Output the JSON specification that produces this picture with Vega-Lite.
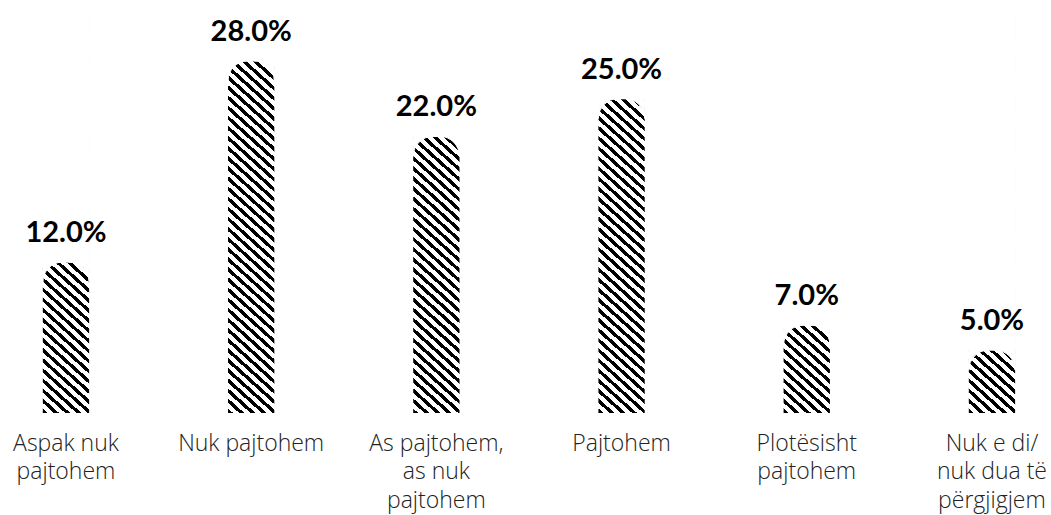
{
  "$schema": "https://vega.github.io/schema/vega-lite/v6.json",
  "width": 1051,
  "height": 413,
  "autosize": {"type": "none"},
  "padding": {"left": 0, "top": 0, "right": 0, "bottom": 102},
  "background": "white",
  "config": {"view": {"stroke": null}},
  "data": {
    "values": [
      {"cat": "Aspak nuk pajtohem", "value": 0.12},
      {"cat": "Nuk pajtohem", "value": 0.28},
      {"cat": "As pajtohem, as nuk pajtohem", "value": 0.22},
      {"cat": "Pajtohem", "value": 0.25},
      {"cat": "Plotësisht pajtohem", "value": 0.07},
      {"cat": "Nuk e di/nuk dua të përgjigjem", "value": 0.05}
    ]
  },
  "encoding": {
    "x": {
      "field": "cat",
      "type": "nominal",
      "sort": null,
      "scale": {"paddingInner": 0.75, "paddingOuter": 0.2125, "align": 0.544, "round": false},
      "axis": {
        "title": null,
        "domain": false,
        "ticks": false,
        "grid": false,
        "labelAngle": 0,
        "labelPadding": 19,
        "labelBaseline": "top",
        "labelFont": "Open Sans",
        "labelFontWeight": 300,
        "labelFontSize": 23,
        "labelColor": "#222222",
        "labelLineHeight": 28.5,
        "labelLimit": 0,
        "labelOverlap": false,
        "labelExpr": "datum.value == 'Aspak nuk pajtohem' ? ['Aspak nuk', 'pajtohem'] : datum.value == 'As pajtohem, as nuk pajtohem' ? ['As pajtohem,', 'as nuk', 'pajtohem'] : datum.value == 'Plotësisht pajtohem' ? ['Plotësisht', 'pajtohem'] : datum.value == 'Nuk e di/nuk dua të përgjigjem' ? ['Nuk e di/', 'nuk dua të', 'përgjigjem'] : datum.value"
      }
    }
  },
  "layer": [
    {
      "mark": {
        "type": "bar",
        "fill": {
          "gradient": "linear",
          "x1": 0, "y1": 1, "x2": 0.10995, "y2": -0.08978,
          "stops": [
            {"offset":0,"color":"#000"},{"offset":0.01,"color":"#000"},{"offset":0.01,"color":"#fff"},{"offset":0.02222,"color":"#fff"},
            {"offset":0.02222,"color":"#000"},{"offset":0.03222,"color":"#000"},{"offset":0.03222,"color":"#fff"},{"offset":0.04444,"color":"#fff"},
            {"offset":0.04444,"color":"#000"},{"offset":0.05444,"color":"#000"},{"offset":0.05444,"color":"#fff"},{"offset":0.06667,"color":"#fff"},
            {"offset":0.06667,"color":"#000"},{"offset":0.07667,"color":"#000"},{"offset":0.07667,"color":"#fff"},{"offset":0.08889,"color":"#fff"},
            {"offset":0.08889,"color":"#000"},{"offset":0.09889,"color":"#000"},{"offset":0.09889,"color":"#fff"},{"offset":0.11111,"color":"#fff"},
            {"offset":0.11111,"color":"#000"},{"offset":0.12111,"color":"#000"},{"offset":0.12111,"color":"#fff"},{"offset":0.13333,"color":"#fff"},
            {"offset":0.13333,"color":"#000"},{"offset":0.14333,"color":"#000"},{"offset":0.14333,"color":"#fff"},{"offset":0.15556,"color":"#fff"},
            {"offset":0.15556,"color":"#000"},{"offset":0.16556,"color":"#000"},{"offset":0.16556,"color":"#fff"},{"offset":0.17778,"color":"#fff"},
            {"offset":0.17778,"color":"#000"},{"offset":0.18778,"color":"#000"},{"offset":0.18778,"color":"#fff"},{"offset":0.2,"color":"#fff"},
            {"offset":0.2,"color":"#000"},{"offset":0.21,"color":"#000"},{"offset":0.21,"color":"#fff"},{"offset":0.22222,"color":"#fff"},
            {"offset":0.22222,"color":"#000"},{"offset":0.23222,"color":"#000"},{"offset":0.23222,"color":"#fff"},{"offset":0.24444,"color":"#fff"},
            {"offset":0.24444,"color":"#000"},{"offset":0.25444,"color":"#000"},{"offset":0.25444,"color":"#fff"},{"offset":0.26667,"color":"#fff"},
            {"offset":0.26667,"color":"#000"},{"offset":0.27667,"color":"#000"},{"offset":0.27667,"color":"#fff"},{"offset":0.28889,"color":"#fff"},
            {"offset":0.28889,"color":"#000"},{"offset":0.29889,"color":"#000"},{"offset":0.29889,"color":"#fff"},{"offset":0.31111,"color":"#fff"},
            {"offset":0.31111,"color":"#000"},{"offset":0.32111,"color":"#000"},{"offset":0.32111,"color":"#fff"},{"offset":0.33333,"color":"#fff"},
            {"offset":0.33333,"color":"#000"},{"offset":0.34333,"color":"#000"},{"offset":0.34333,"color":"#fff"},{"offset":0.35556,"color":"#fff"},
            {"offset":0.35556,"color":"#000"},{"offset":0.36556,"color":"#000"},{"offset":0.36556,"color":"#fff"},{"offset":0.37778,"color":"#fff"},
            {"offset":0.37778,"color":"#000"},{"offset":0.38778,"color":"#000"},{"offset":0.38778,"color":"#fff"},{"offset":0.4,"color":"#fff"},
            {"offset":0.4,"color":"#000"},{"offset":0.41,"color":"#000"},{"offset":0.41,"color":"#fff"},{"offset":0.42222,"color":"#fff"},
            {"offset":0.42222,"color":"#000"},{"offset":0.43222,"color":"#000"},{"offset":0.43222,"color":"#fff"},{"offset":0.44444,"color":"#fff"},
            {"offset":0.44444,"color":"#000"},{"offset":0.45444,"color":"#000"},{"offset":0.45444,"color":"#fff"},{"offset":0.46667,"color":"#fff"},
            {"offset":0.46667,"color":"#000"},{"offset":0.47667,"color":"#000"},{"offset":0.47667,"color":"#fff"},{"offset":0.48889,"color":"#fff"},
            {"offset":0.48889,"color":"#000"},{"offset":0.49889,"color":"#000"},{"offset":0.49889,"color":"#fff"},{"offset":0.51111,"color":"#fff"},
            {"offset":0.51111,"color":"#000"},{"offset":0.52111,"color":"#000"},{"offset":0.52111,"color":"#fff"},{"offset":0.53333,"color":"#fff"},
            {"offset":0.53333,"color":"#000"},{"offset":0.54333,"color":"#000"},{"offset":0.54333,"color":"#fff"},{"offset":0.55556,"color":"#fff"},
            {"offset":0.55556,"color":"#000"},{"offset":0.56556,"color":"#000"},{"offset":0.56556,"color":"#fff"},{"offset":0.57778,"color":"#fff"},
            {"offset":0.57778,"color":"#000"},{"offset":0.58778,"color":"#000"},{"offset":0.58778,"color":"#fff"},{"offset":0.6,"color":"#fff"},
            {"offset":0.6,"color":"#000"},{"offset":0.61,"color":"#000"},{"offset":0.61,"color":"#fff"},{"offset":0.62222,"color":"#fff"},
            {"offset":0.62222,"color":"#000"},{"offset":0.63222,"color":"#000"},{"offset":0.63222,"color":"#fff"},{"offset":0.64444,"color":"#fff"},
            {"offset":0.64444,"color":"#000"},{"offset":0.65444,"color":"#000"},{"offset":0.65444,"color":"#fff"},{"offset":0.66667,"color":"#fff"},
            {"offset":0.66667,"color":"#000"},{"offset":0.67667,"color":"#000"},{"offset":0.67667,"color":"#fff"},{"offset":0.68889,"color":"#fff"},
            {"offset":0.68889,"color":"#000"},{"offset":0.69889,"color":"#000"},{"offset":0.69889,"color":"#fff"},{"offset":0.71111,"color":"#fff"},
            {"offset":0.71111,"color":"#000"},{"offset":0.72111,"color":"#000"},{"offset":0.72111,"color":"#fff"},{"offset":0.73333,"color":"#fff"},
            {"offset":0.73333,"color":"#000"},{"offset":0.74333,"color":"#000"},{"offset":0.74333,"color":"#fff"},{"offset":0.75556,"color":"#fff"},
            {"offset":0.75556,"color":"#000"},{"offset":0.76556,"color":"#000"},{"offset":0.76556,"color":"#fff"},{"offset":0.77778,"color":"#fff"},
            {"offset":0.77778,"color":"#000"},{"offset":0.78778,"color":"#000"},{"offset":0.78778,"color":"#fff"},{"offset":0.8,"color":"#fff"},
            {"offset":0.8,"color":"#000"},{"offset":0.81,"color":"#000"},{"offset":0.81,"color":"#fff"},{"offset":0.82222,"color":"#fff"},
            {"offset":0.82222,"color":"#000"},{"offset":0.83222,"color":"#000"},{"offset":0.83222,"color":"#fff"},{"offset":0.84444,"color":"#fff"},
            {"offset":0.84444,"color":"#000"},{"offset":0.85444,"color":"#000"},{"offset":0.85444,"color":"#fff"},{"offset":0.86667,"color":"#fff"},
            {"offset":0.86667,"color":"#000"},{"offset":0.87667,"color":"#000"},{"offset":0.87667,"color":"#fff"},{"offset":0.88889,"color":"#fff"},
            {"offset":0.88889,"color":"#000"},{"offset":0.89889,"color":"#000"},{"offset":0.89889,"color":"#fff"},{"offset":0.91111,"color":"#fff"},
            {"offset":0.91111,"color":"#000"},{"offset":0.92111,"color":"#000"},{"offset":0.92111,"color":"#fff"},{"offset":0.93333,"color":"#fff"},
            {"offset":0.93333,"color":"#000"},{"offset":0.94333,"color":"#000"},{"offset":0.94333,"color":"#fff"},{"offset":0.95556,"color":"#fff"},
            {"offset":0.95556,"color":"#000"},{"offset":0.96556,"color":"#000"},{"offset":0.96556,"color":"#fff"},{"offset":0.97778,"color":"#fff"},
            {"offset":0.97778,"color":"#000"},{"offset":0.98778,"color":"#000"},{"offset":0.98778,"color":"#fff"},{"offset":1,"color":"#fff"}
          ]
        }
      },
      "encoding": {
        "y": {"datum": 0.3283, "type": "quantitative", "scale": {"domain": [0, 0.3283], "nice": false, "zero": true}, "axis": null},
        "y2": {"datum": 0}
      }
    },
    {
      "mark": {"type": "bar", "fill": "white", "stroke": "white", "strokeWidth": 1.5},
      "encoding": {
        "y": {"field": "value", "type": "quantitative", "axis": null},
        "y2": {"datum": 0.3283}
      }
    },
    {
      "mark": {
        "type": "point",
        "shape": "M -1 0 L -1 0.864 A 0.864 0.864 0 0 1 -0.136 0 Z M 1 0 L 0.136 0 A 0.864 0.864 0 0 1 1 0.864 Z",
        "size": 2143.7,
        "filled": true,
        "fill": "white",
        "stroke": "white",
        "strokeWidth": 1,
        "opacity": 1
      },
      "encoding": {
        "y": {"field": "value", "type": "quantitative", "axis": null}
      }
    },
    {
      "mark": {"type": "text", "dy": -20, "baseline": "alphabetic", "align": "center", "font": "Lato", "fontSize": 29, "fontWeight": "bold", "color": "#000000"},
      "encoding": {
        "y": {"field": "value", "type": "quantitative", "axis": null},
        "text": {"field": "value", "type": "quantitative", "format": ".1%"}
      }
    }
  ]
}
